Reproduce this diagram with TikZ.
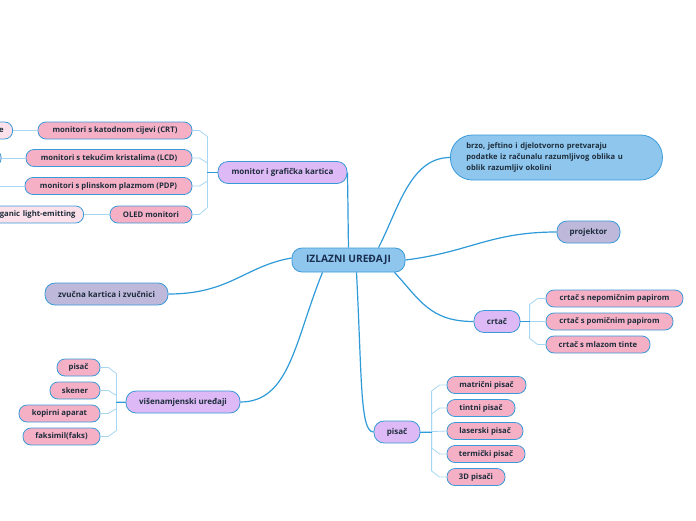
\documentclass[tikz,border=0pt]{standalone}
\usepackage{fontspec}
\setmainfont{Open Sans}
\usetikzlibrary{calc}
\definecolor{nodeline}{HTML}{3A9AD9}
\definecolor{mainline}{HTML}{2E9AD8}
\definecolor{subline}{HTML}{A6D6F2}
\definecolor{bluef}{HTML}{8EC6EE}
\definecolor{lavf}{HTML}{DDB9F6}
\definecolor{greyf}{HTML}{BEB8DA}
\definecolor{pinkf}{HTML}{F5B0C6}
\definecolor{lpinkf}{HTML}{FDE1EA}
\definecolor{txt}{HTML}{1E2D3B}
\definecolor{roottxt}{HTML}{1A2F50}
\begin{document}
\begin{tikzpicture}[x=1pt,y=-1pt,
  base/.style={draw=nodeline, line width=0.8pt, text=txt, inner sep=0pt, align=center},
  leaf/.style={base, fill=pinkf, minimum height=17pt, rounded corners=8pt, font=\bfseries\fontsize{7.7}{9}\selectfont},
  leafl/.style={leaf, fill=lpinkf},
  midnode/.style={base, fill=lavf, minimum height=22pt, rounded corners=10pt, font=\bfseries\fontsize{8}{9.5}\selectfont},
  rootnode/.style={base, fill=bluef, minimum height=24pt, rounded corners=10pt, text=roottxt, font=\bfseries\fontsize{10.2}{12}\selectfont},
  mainconn/.style={draw=mainline, line width=1.2pt},
  subconn/.style={draw=subline, line width=0.8pt},
  stub/.style={draw=mainline, line width=0.9pt}
]
\useasboundingbox (0,0) rectangle (696,520);
\clip (0,0) rectangle (696,520);

% central
\node[rootnode, minimum width=113pt] (root) at (348.5,260) {IZLAZNI UREĐAJI};

% monitor group
\node[midnode, minimum width=129pt] (mon) at (282.5,172.5) {monitor i grafička kartica};
\node[leaf, minimum width=154pt] (crt) at (115,130.5) {monitori s katodnom cijevi (CRT)};
\node[leaf, minimum width=166pt] (lcd) at (109,158) {monitori s tekućim kristalima (LCD)};
\node[leaf, minimum width=167pt] (pdp) at (108.5,186) {monitori s plinskom plazmom (PDP)};
\node[leaf, minimum width=82pt] (oled) at (151,214.5) {OLED monitori};
\node[leafl, anchor=east, text width=24pt, align=right, inner xsep=9pt] (crtx) at (13,130.5) {e};
\node[leafl, anchor=east, minimum width=40pt] (lcdx) at (1.5,158) {};
\coordinate (pdpx) at (-5,186);
\node[leafl, anchor=east, text width=110pt, align=right, inner xsep=8pt] (oledx) at (84,214.5) {organic light-emitting};

% description
\node[base, fill=bluef, anchor=west, minimum height=45pt, rounded corners=22pt, text width=180pt, inner xsep=16pt, align=left, font=\bfseries\fontsize{7.6}{11}\selectfont] (brzo) at (450,157.5) {brzo, jeftino i djelotvorno pretvaraju\\podatke iz računalu razumljivog oblika u\\oblik razumljiv okolini};

\node[midnode, fill=greyf, minimum width=63pt] (proj) at (588.5,232) {projektor};
\node[midnode, fill=greyf, minimum width=123pt] (zv) at (106.5,294) {zvučna kartica i zvučnici};

% crtac group
\node[midnode, minimum width=46pt] (crtac) at (497,321.5) {crtač};
\node[leaf, minimum width=137pt] (cr1) at (614.5,298.5) {crtač s nepomičnim papirom};
\node[leaf, minimum width=127pt] (cr2) at (609.5,321.5) {crtač s pomičnim papirom};
\node[leaf, minimum width=104pt] (cr3) at (598,344.5) {crtač s mlazom tinte};

% visenamjenski group
\node[midnode, minimum width=114pt] (vis) at (183,402) {višenamjenski uređaji};
\node[leaf, minimum width=43pt] (v1) at (78.5,367.5) {pisač};
\node[leaf, minimum width=50pt] (v2) at (75,390.5) {skener};
\node[leaf, minimum width=81pt] (v3) at (59.5,413.5) {kopirni aparat};
\node[leaf, minimum width=77pt] (v4) at (61.5,436.5) {faksimil(faks)};

% pisac group
\node[midnode, minimum width=46pt] (pis) at (397,432) {pisač};
\node[leaf, minimum width=79pt] (p1) at (486.5,385) {matrični pisač};
\node[leaf, minimum width=68pt] (p2) at (481,408) {tintni pisač};
\node[leaf, minimum width=76pt] (p3) at (485,431) {laserski pisač};
\node[leaf, minimum width=78pt] (p4) at (486,454) {termički pisač};
\node[leaf, minimum width=58pt] (p5) at (476,477) {3D pisači};

% main connectors
\draw[mainconn] (mon.east) .. controls (348,200) and (348,220) .. (root.north);
\draw[mainconn] ([xshift=30pt]root.north) .. controls (398,210) and (410,157.5) .. (brzo.west);
\draw[mainconn] (root.east) .. controls (470,252) and (490,232) .. (proj.west);
\draw[mainconn] ([xshift=46pt]root.south) .. controls (420,300) and (430,321.5) .. (crtac.west);
\draw[mainconn] ([xshift=8pt]root.south) .. controls (362,380) and (360,432) .. (pis.west);
\draw[mainconn] ([xshift=-26pt]root.south) .. controls (295,340) and (290,402) .. (vis.east);
\draw[mainconn] ([yshift=2pt]root.west) .. controls (245,266) and (230,294) .. (zv.east);

% monitor sub connectors
\draw[subconn] (crt.east) -- ++(7,0) -- ++(8,6) |- (mon.west);
\draw[subconn] (lcd.east) -- ++(7,0) -- ++(8,5) |- (mon.west);
\draw[subconn] (pdp.east) -- ++(7,0) -- ++(8,-5) |- (mon.west);
\draw[subconn] (oled.east) -- ++(7,0) -- ++(8,-7) |- (mon.west);
\draw[stub] (207,172.5) -- (mon.west);
\draw[subconn] (crt.west) -- (crtx.east);
\draw[subconn] (lcd.west) -- (lcdx.east);
\draw[subconn] (pdp.west) -- (pdpx);
\draw[subconn] (oled.west) -- (oledx.east);

% crtac sub connectors
\draw[subconn] (cr1.west) -- ++(-8,0) -- ++(-8,6) |- (crtac.east);
\draw[subconn] (cr2.west) -- (crtac.east);
\draw[subconn] (cr3.west) -- ++(-8,0) -- ++(-8,-6) |- (crtac.east);
\draw[stub] (530,321.5) -- (crtac.east);

% visenamjenski sub connectors
\draw[subconn] (v1.east) -- ++(8,0) -- ++(8,6) |- (vis.west);
\draw[subconn] (v2.east) -- ++(8,0) -- ++(8,5) |- (vis.west);
\draw[subconn] (v3.east) -- ++(8,0) -- ++(8,-5) |- (vis.west);
\draw[subconn] (v4.east) -- ++(8,0) -- ++(8,-6) |- (vis.west);
\draw[stub] (116,402) -- (vis.west);

% pisac sub connectors
\draw[subconn] (p1.west) -- ++(-7,0) -- ++(-8,6) |- (pis.east);
\draw[subconn] (p2.west) -- ++(-7,0) -- ++(-8,6) |- (pis.east);
\draw[subconn] (p3.west) -- (pis.east);
\draw[subconn] (p4.west) -- ++(-7,0) -- ++(-8,-6) |- (pis.east);
\draw[subconn] (p5.west) -- ++(-7,0) -- ++(-8,-6) |- (pis.east);
\draw[stub] (432,432) -- (pis.east);
\end{tikzpicture}
\end{document}
